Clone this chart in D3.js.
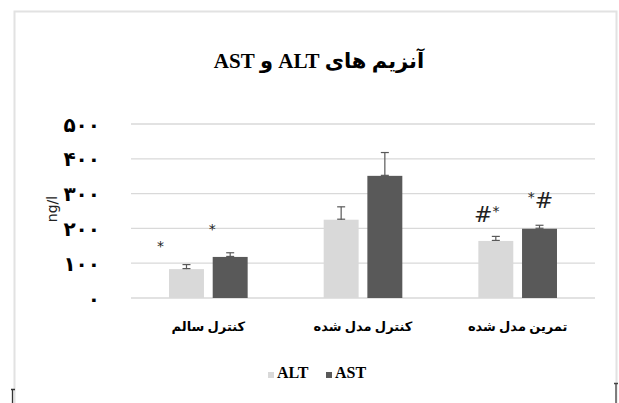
<!DOCTYPE html>
<html>
<head>
<meta charset="utf-8">
<script src="https://cdn.jsdelivr.net/npm/d3@7"></script>
<style>
  body { margin: 0; background: #fff; }
  text { font-family: "Liberation Serif", "DejaVu Sans", serif; }
</style>
</head>
<body>
<div id="chart"></div>
<script>
// chart data
var categories = ["کنترل سالم", "کنترل مدل شده", "تمرین مدل شده"];
var seriesNames = ["ALT", "AST"];
var altValues = [83, 225, 164];
var astValues = [118, 351, 199];
var altErrors = [13, 37, 13];
var astErrors = [12, 67, 10];
var altMarks = ["*", "", "#*"];
var astMarks = ["*", "", "*#"];
var tickValues = [0, 100, 200, 300, 400, 500];
var tickLabels = ["۰", "۱۰۰", "۲۰۰", "۳۰۰", "۴۰۰", "۵۰۰"];

var svgWidth = 619;
var svgHeight = 403;

var margin = { top: 124, right: 24, bottom: 105, left: 131 };
var width = 595 - margin.left;
var height = 298 - margin.top;

var colors = { ALT: "#d9d9d9", AST: "#595959" };

var svg = d3.select("#chart")
  .append("svg")
  .attr("width", svgWidth)
  .attr("height", svgHeight);

// chart area border (runs off the bottom of the picture)
svg.append("path")
  .attr("d", "M14.5,410 V11.5 H616.5 V410")
  .attr("fill", "none")
  .attr("stroke", "#e2e2e2")
  .attr("stroke-width", 2);

// little dark marks at the bottom corners
svg.append("path")
  .attr("d", "M12.5,403 V389.5 M11,389.5 H15")
  .attr("stroke", "#333").attr("stroke-width", 1.3).attr("fill", "none");
svg.append("path")
  .attr("d", "M616,403 V383.5 M614,383.5 H618")
  .attr("stroke", "#444").attr("stroke-width", 1.3).attr("fill", "none");

// title
svg.append("text")
  .attr("x", 319)
  .attr("y", 68)
  .attr("text-anchor", "middle")
  .attr("direction", "rtl")
  .attr("font-size", "21px")
  .attr("font-weight", "bold")
  .attr("fill", "#000")
  .text("آنزیم های ALT و AST");

var chartGroup = svg.append("g")
  .attr("transform", `translate(${margin.left}, ${margin.top})`);

var x0 = d3.scaleBand()
  .domain(categories)
  .range([0, width]);

var x1 = d3.scaleBand()
  .domain(seriesNames)
  .range([0, x0.bandwidth()])
  .paddingInner(0.2)
  .paddingOuter(0.87);

var y = d3.scaleLinear()
  .domain([0, 500])
  .range([height, 0]);

// gridlines
chartGroup.append("g")
  .selectAll("line")
  .data(tickValues)
  .enter()
  .append("line")
  .attr("x1", 0)
  .attr("x2", width)
  .attr("y1", d => y(d))
  .attr("y2", d => y(d))
  .attr("stroke", "#d9d9d9")
  .attr("stroke-width", 1.3);

// y axis labels
var leftAxis = d3.axisLeft(y)
  .tickValues(tickValues)
  .tickSize(0)
  .tickPadding(31)
  .tickFormat((d, i) => tickLabels[i]);

var yAxis = chartGroup.append("g").call(leftAxis);
yAxis.select(".domain").remove();
yAxis.selectAll("text")
  .attr("font-size", "20px")
  .attr("font-weight", "bold")
  .attr("fill", "#000")
  .attr("dy", "0.35em");

// y axis title
chartGroup.append("text")
  .attr("transform", "rotate(-90)")
  .attr("x", -(y(250) - 2))
  .attr("y", -74)
  .attr("text-anchor", "middle")
  .attr("font-size", "14px")
  .attr("fill", "#222")
  .style("font-family", "'DejaVu Sans', sans-serif")
  .text("ng/l");

// build rows for bars
var rows = [];
categories.forEach(function(c, i) {
  rows.push({ cat: c, series: "ALT", value: altValues[i], err: altErrors[i], mark: altMarks[i] });
  rows.push({ cat: c, series: "AST", value: astValues[i], err: astErrors[i], mark: astMarks[i] });
});

function barCenter(d) {
  return x0(d.cat) + x1(d.series) + x1.bandwidth() / 2;
}

chartGroup.selectAll(".bar")
  .data(rows)
  .enter()
  .append("rect")
  .attr("class", "bar")
  .attr("x", d => x0(d.cat) + x1(d.series))
  .attr("y", d => y(d.value))
  .attr("width", x1.bandwidth())
  .attr("height", d => height - y(d.value))
  .attr("fill", d => colors[d.series]);

// error bars (upper side only)
var errGroup = chartGroup.selectAll(".err")
  .data(rows)
  .enter()
  .append("g")
  .attr("class", "err")
  .attr("stroke", "#595959")
  .attr("stroke-width", 1.2);

errGroup.append("line")
  .attr("x1", barCenter)
  .attr("x2", barCenter)
  .attr("y1", d => y(d.value))
  .attr("y2", d => y(d.value + d.err));

errGroup.append("line")
  .attr("x1", d => barCenter(d) - 4)
  .attr("x2", d => barCenter(d) + 4)
  .attr("y1", d => y(d.value + d.err))
  .attr("y2", d => y(d.value + d.err));

errGroup.append("line")
  .attr("x1", d => barCenter(d) - 4)
  .attr("x2", d => barCenter(d) + 4)
  .attr("y1", d => y(d.value) - 0.5)
  .attr("y2", d => y(d.value) - 0.5);

// significance marks
function markDx(d) {
  if (d.mark.length === 1) return d.series === "ALT" ? -26 : -18;
  return d.series === "ALT" ? -9 : 1;
}

function markDy(d) {
  if (d.mark.length === 1) return d.series === "ALT" ? 14 : 19;
  return d.series === "ALT" ? 14 : 17;
}

chartGroup.selectAll(".mark")
  .data(rows.filter(d => d.mark !== ""))
  .enter()
  .append("text")
  .attr("class", "mark")
  .attr("x", d => barCenter(d) + markDx(d))
  .attr("y", d => y(d.value + d.err) - markDy(d))
  .attr("text-anchor", "middle")
  .attr("font-size", d => d.mark.length > 1 ? "22px" : "14px")
  .attr("fill", "#222")
  .style("font-family", "'DejaVu Sans', sans-serif")
  .each(function(d) {
    var t = d3.select(this);
    var shift = 0;
    d.mark.split("").forEach(function(ch) {
      var small = ch === "*" && d.mark.length > 1;
      var target = small ? -6 : 0;
      t.append("tspan")
        .attr("font-size", small ? "14px" : null)
        .attr("dy", target - shift)
        .text(ch);
      shift = target;
    });
  });

// category labels
chartGroup.selectAll(".cat")
  .data(categories)
  .enter()
  .append("text")
  .attr("class", "cat")
  .attr("x", d => x0(d) + x0.bandwidth() / 2)
  .attr("y", height + 33)
  .attr("text-anchor", "middle")
  .attr("direction", "rtl")
  .attr("font-size", "13px")
  .attr("font-weight", "bold")
  .attr("fill", "#000")
  .text(d => d);

// legend
var legend = svg.append("g")
  .attr("transform", "translate(268, 378)");

var legendItems = legend.selectAll(".leg")
  .data(seriesNames)
  .enter()
  .append("g")
  .attr("class", "leg")
  .attr("transform", (d, i) => `translate(${i * 58}, 0)`);

legendItems.append("rect")
  .attr("x", 0)
  .attr("y", -6)
  .attr("width", 6)
  .attr("height", 6)
  .attr("fill", d => colors[d]);

legendItems.append("text")
  .attr("x", 9)
  .attr("y", 0)
  .attr("font-size", "16px")
  .attr("font-weight", "bold")
  .attr("fill", "#000")
  .text(d => d);
</script>
</body>
</html>
